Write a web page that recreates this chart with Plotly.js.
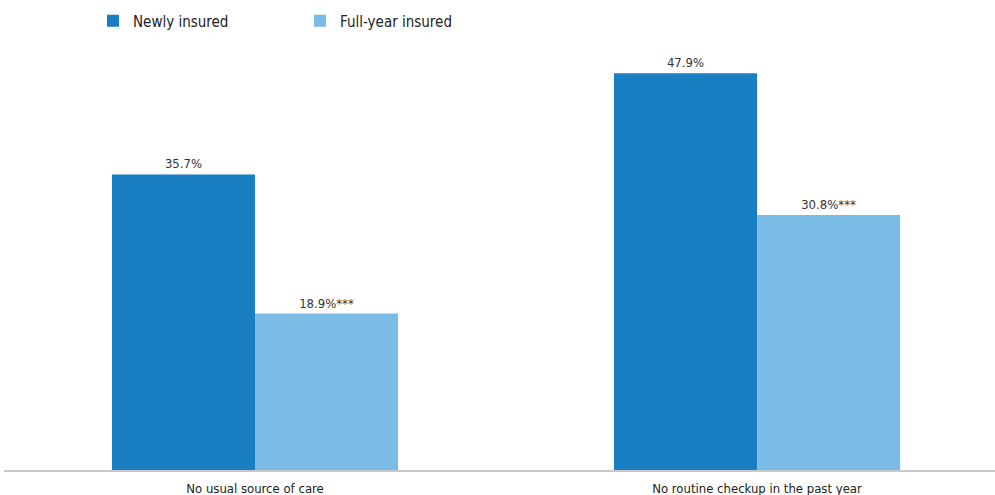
<!DOCTYPE html>
<html><head><meta charset="utf-8">
<script src="https://cdn.plot.ly/plotly-3.0.1.min.js"></script>
<style>html,body{margin:0;padding:0;background:#fff}#c{width:995px;height:495px}</style>
</head><body><div id="c"></div>
<script>
const categories = ["No usual source of care", "No routine checkup in the past year"];
const newlyInsured = [35.7, 47.9];
const fullYearInsured = [18.9, 30.8];
const newlyLabels = ["35.7%", "47.9%"];
const fullYearLabels = ["18.9%***", "30.8%***"];
const seriesNames = ["Newly insured", "Full-year insured"];

const fontFam = "'Liberation Sans Narrow', 'DejaVu Sans Condensed', 'Liberation Sans', sans-serif";
const traces = [
  {type:'bar', name:seriesNames[0], x:categories, y:newlyInsured, text:newlyLabels,
   textposition:'outside', cliponaxis:false, textfont:{size:13, color:'#333'},
   marker:{color:'#1a7ec3'}},
  {type:'bar', name:seriesNames[1], x:categories, y:fullYearInsured, text:fullYearLabels,
   textposition:'outside', cliponaxis:false, textfont:{size:13, color:'#333'},
   marker:{color:'#7bbce6'}}
];
const layout = {
  width:995, height:495,
  margin:{l:4, r:0, t:40, b:25},
  paper_bgcolor:'#fff', plot_bgcolor:'#fff',
  font:{family:fontFam, size:13, color:'#222'},
  barmode:'group', bargap:0.43, bargroupgap:0,
  showlegend:true,
  legend:{orientation:'h', x:0.0898, y:1.006, xanchor:'left', yanchor:'bottom',
          font:{size:15, color:'#222'}, itemwidth:30, tracegroupgap:0, entrywidth:162},
  xaxis:{type:'category', range:[-0.5, 1.474], showline:true, linecolor:'#c8c8c8', linewidth:2,
         ticks:'', ticklabelstandoff:5, showgrid:false, zeroline:false, tickfont:{size:13, color:'#222'}, fixedrange:true},
  yaxis:{range:[0, 51.93], visible:false, showgrid:false, zeroline:false, fixedrange:true}
};
Plotly.newPlot('c', traces, layout, {displayModeBar:false, staticPlot:true});
</script></body></html>
